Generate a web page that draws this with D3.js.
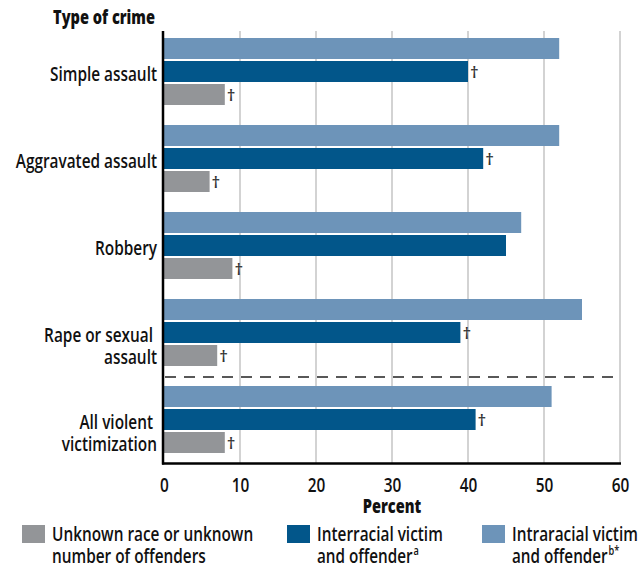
<!DOCTYPE html>
<html><head><meta charset="utf-8">
<script src="https://cdn.jsdelivr.net/npm/d3@7"></script>
<style>
body{margin:0;background:#fff;}
text{font-family:"Open Sans","Noto Sans",sans-serif;fill:#111;}
</style></head>
<body><svg id="c" width="644" height="569"></svg>
<script>
const categories = ["Simple assault","Aggravated assault","Robbery","Rape or sexual assault","All violent victimization"];
const categoryLines = [["Simple assault"],["Aggravated assault"],["Robbery"],["Rape or sexual","assault"],["All violent","victimization"]];
const seriesNames = ["Intraracial","Interracial","Unknown"];
const intraValues = [52,52,47,55,51];
const interValues = [40,42,45,39,41];
const unknownValues = [8,6,9,7,8];
const interSignificant = [true,true,false,true,true];
const unknownSignificant = [true,true,true,true,true];
const xTicks = [0,10,20,30,40,50,60];
const colors = {Intraracial:"#6d94b9",Interracial:"#02568a",Unknown:"#939598"};

const svg = d3.select("#c");
const REG = 600, BOLD = 800;

function measure(str, wt){
  const t = svg.append("text").style("font-size","20px").style("font-weight",wt).text(str);
  const w = t.node().getComputedTextLength(); t.remove(); return w;
}
const kReg = 107/measure("Simple assault",REG);
const kBold = 102/measure("Type of crime",BOLD);
function condense(sel, k){
  sel.each(function(){
    const w = this.getComputedTextLength();
    d3.select(this).attr("textLength", w*k).attr("lengthAdjust","spacingAndGlyphs");
  });
}

const x = d3.scaleLinear().domain([0,60]).range([164,620]);
const y = d3.scaleBand().domain(categories).range([28,463]).paddingInner(20/87).paddingOuter(10/87);
const ySub = d3.scaleBand().domain(seriesNames).range([0,y.bandwidth()]).paddingInner(2/23).paddingOuter(0);

// gridlines
svg.append("g").selectAll("line").data(xTicks.slice(1)).join("line")
  .attr("x1",d=>x(d)).attr("x2",d=>x(d)).attr("y1",31).attr("y2",463)
  .attr("stroke","#c8c8c8").attr("stroke-width",1.6);

const rows = categories.map((c,i)=>({c,i,vals:[
  {s:"Intraracial",v:intraValues[i],sig:false},
  {s:"Interracial",v:interValues[i],sig:interSignificant[i]},
  {s:"Unknown",v:unknownValues[i],sig:unknownSignificant[i]}]}));

const g = svg.append("g").selectAll("g").data(rows).join("g")
  .attr("transform",d=>`translate(0,${y(d.c)})`);
g.selectAll("rect").data(d=>d.vals).join("rect")
  .attr("x",x(0)).attr("y",d=>ySub(d.s)).attr("width",d=>x(d.v)-x(0)).attr("height",ySub.bandwidth())
  .attr("fill",d=>colors[d.s]);
g.selectAll("text.dag").data(d=>d.vals.filter(v=>v.sig)).join("text").attr("class","dag")
  .attr("x",d=>x(d.v)+2).attr("y",d=>ySub(d.s)+ySub.bandwidth()/2+6)
  .style("font-size","17px").style("font-weight",600).style("fill","#333").text("†");

// category labels
g.each(function(d){
  const n = categoryLines[d.i].length;
  categoryLines[d.i].forEach((ln,k)=>{
    d3.select(this).append("text").attr("class","cat").attr("text-anchor","end")
      .style("font-size","20px").style("font-weight",REG)
      .attr("x", (n>1 && k===0) ? 153 : 157).attr("y",43+22*k).text(ln);
  });
});
condense(svg.selectAll("text.cat"), kReg);

// dashed separator
svg.append("line").attr("x1",165).attr("x2",617).attr("y1",377).attr("y2",377)
  .attr("stroke","#222").attr("stroke-width",1.5).attr("stroke-dasharray","11,8");

// axes lines
svg.append("line").attr("x1",163).attr("x2",163).attr("y1",31).attr("y2",464.5).attr("stroke","#000").attr("stroke-width",2.5);
svg.append("line").attr("x1",162).attr("x2",621).attr("y1",463.5).attr("y2",463.5).attr("stroke","#000").attr("stroke-width",2.5);

// x axis ticks
const xa = svg.append("g").attr("transform","translate(0,464)")
  .call(d3.axisBottom(x).tickValues(xTicks).tickSize(0).tickPadding(0));
xa.select(".domain").remove();
xa.selectAll("text").attr("dy",null).attr("y",28).style("font-size","20px").style("font-weight",REG)
  .style("font-family",'"Open Sans","Noto Sans",sans-serif').attr("fill","#111");
condense(xa.selectAll("text"), kReg);

const pct = svg.append("text").attr("x",392).attr("y",513).attr("text-anchor","middle")
  .style("font-size","20px").style("font-weight",BOLD).text("Percent");
condense(pct, kBold);
const ttl = svg.append("text").attr("x",155).attr("y",24).attr("text-anchor","end")
  .style("font-size","20px").style("font-weight",BOLD).text("Type of crime");
condense(ttl, kBold);

// legend
const legend = [
  {s:"Unknown",x:22,lines:["Unknown race or unknown","number of offenders"],sup:""},
  {s:"Interracial",x:287,lines:["Interracial victim","and offender"],sup:"a"},
  {s:"Intraracial",x:482,lines:["Intraracial victim","and offender"],sup:"b*"}];
const lg = svg.append("g").selectAll("g").data(legend).join("g");
lg.append("rect").attr("x",d=>d.x).attr("y",525).attr("width",23).attr("height",18).attr("fill",d=>colors[d.s]);
lg.each(function(d){
  const sel = d3.select(this);
  const t1 = sel.append("text").style("font-size","20px").style("font-weight",REG).attr("x",d.x+30).attr("y",541).text(d.lines[0]);
  const t2 = sel.append("text").style("font-size","20px").style("font-weight",REG).attr("x",d.x+30).attr("y",563);
  t2.append("tspan").text(d.lines[1]);
  if(d.sup) t2.append("tspan").attr("dx",1).attr("dy",-8).style("font-size","12px").text(d.sup);
  condense(t1,kReg); condense(t2,kReg);
});
</script></body></html>
